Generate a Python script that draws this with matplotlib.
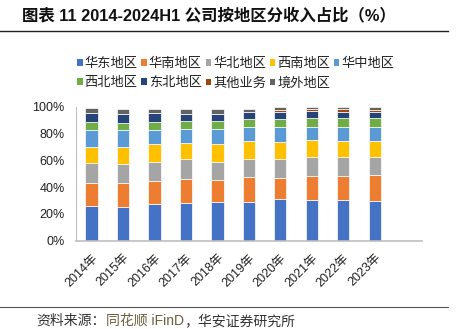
import matplotlib
matplotlib.use("Agg")
import matplotlib.pyplot as plt
from matplotlib.patches import Patch
import numpy as np

plt.rcParams['font.family'] = ['Liberation Sans', 'Noto Sans CJK SC', 'DejaVu Sans']

years = ['2014年', '2015年', '2016年', '2017年', '2018年',
         '2019年', '2020年', '2021年', '2022年', '2023年']

region_names = ['华东地区', '华南地区', '华北地区', '西南地区', '华中地区',
                '西北地区', '东北地区', '其他业务', '境外地区']

# share of revenue by region, in %
east      = [26.0, 25.5, 27.2, 28.4, 28.9, 28.7, 31.4, 30.7, 30.7, 29.9]
south     = [17.4, 17.9, 17.7, 18.0, 16.7, 19.2, 15.7, 17.9, 17.9, 19.0]
north     = [14.5, 14.0, 14.2, 14.5, 13.5, 13.0, 13.8, 13.8, 13.8, 14.0]
southwest = [12.4, 12.4, 13.2, 12.2, 13.5, 13.9, 13.2, 12.9, 12.2, 11.9]
central   = [12.3, 12.8, 10.7, 10.7, 10.9, 10.0, 10.7,  9.7, 10.4, 10.5]
northwest = [ 5.9,  5.2,  5.8,  5.5,  5.8,  6.0,  6.0,  6.8,  7.0,  6.7]
northeast = [ 7.3,  7.0,  6.5,  5.7,  5.7,  5.2,  5.6,  5.3,  4.5,  4.0]
other_biz = [ 0.0,  0.0,  0.0,  0.0,  0.0,  0.0,  1.6,  1.4,  2.0,  2.0]
overseas  = [ 3.2,  3.7,  3.0,  3.3,  3.3,  2.5,  2.0,  1.5,  1.5,  2.0]

series = [east, south, north, southwest, central, northwest, northeast, other_biz, overseas]
colors = ['#4472C4', '#ED7D31', '#A5A5A5', '#FFC000', '#5B9BD5',
          '#70AD47', '#264478', '#9E480E', '#636363']

fig = plt.figure(figsize=(4.6, 3.29), dpi=100)
ax = fig.add_axes([0.1646, 0.2684, 0.7528, 0.4064])

x = np.arange(len(years))
bottom = np.zeros(len(years))
handles = []
for vals, c, name in zip(series, colors, region_names):
    v = np.array(vals) / 100.0
    ax.bar(x, v, width=0.39, bottom=bottom, color=c, edgecolor='white', linewidth=0.5)
    bottom += v
    handles.append(Patch(facecolor=c, edgecolor='none', label=name))

ax.set_xlim(-0.5, 10.5)
ax.set_ylim(0, 1.0)
ax.set_yticks(np.arange(0, 1.01, 0.2))
ax.set_yticklabels([f'{int(round(t * 100))}%' for t in np.arange(0, 1.01, 0.2)],
                   fontsize=9, color='#222222')
ax.set_xticks(x)
ax.set_xticklabels(years, rotation=45, ha='right', va='top',
                   rotation_mode='anchor', fontsize=9, color='#222222')
ax.tick_params(axis='both', length=0)
ax.tick_params(axis='y', pad=8)
ax.tick_params(axis='x', pad=8)
for s in ['top', 'right']:
    ax.spines[s].set_visible(False)
ax.spines['left'].set_color('#bfbfbf')
ax.spines['left'].set_linewidth(0.8)
ax.spines['bottom'].set_color('#bfbfbf')
ax.spines['bottom'].set_linewidth(1.2)

# legend laid out row by row: 5 on the first row, 4 on the second
order = [0, 5, 1, 6, 2, 7, 3, 8, 4]
leg = fig.legend([handles[i] for i in order], [region_names[i] for i in order],
                 ncol=5, loc='upper left', bbox_to_anchor=(0.168, 0.824),
                 frameon=False, fontsize=9.5, handlelength=0.4, handleheight=0.4,
                 handletextpad=0.15, columnspacing=0.3, labelspacing=0.55,
                 borderaxespad=0, borderpad=0)
for t in leg.get_texts():
    t.set_color('#222222')

# title and rules
fig.text(0.048, 0.952, '图表 11 2014-2024H1 公司按地区分收入占比（%）',
         fontsize=11.8, fontweight='bold', ha='left', va='center', color='#111111')
fig.add_artist(plt.Line2D([0.0, 0.975], [0.906, 0.906], transform=fig.transFigure,
                          color='#222222', linewidth=1.0))
fig.add_artist(plt.Line2D([0.0, 0.975], [0.067, 0.067], transform=fig.transFigure,
                          color='#555555', linewidth=0.8))

# source line
src_y = 0.025
t1 = fig.text(0.080, src_y, '资料来源：', fontsize=10, ha='left', va='center', color='#333333')
fig.canvas.draw()
r = fig.canvas.get_renderer()
bb = t1.get_window_extent(r)
t2 = fig.text(bb.x1 / fig.bbox.width, src_y, '同花顺 iFinD', fontsize=10, ha='left',
              va='center', color='#6b5e3c')
bb2 = t2.get_window_extent(r)
fig.text(bb2.x1 / fig.bbox.width, src_y, '，华安证券研究所', fontsize=10, ha='left',
         va='center', color='#333333')

fig.savefig('out.png', dpi=100)
